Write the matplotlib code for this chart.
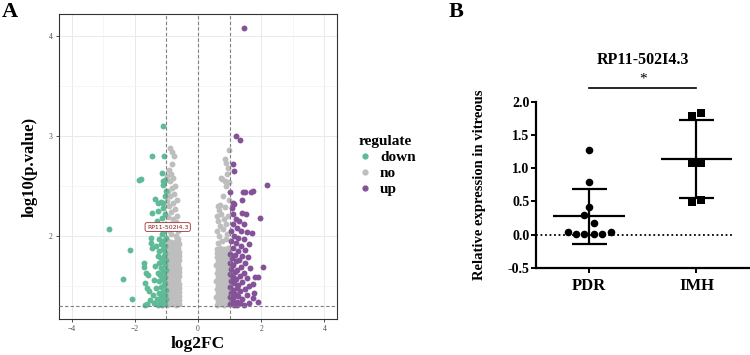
import numpy as np
import matplotlib
matplotlib.use("Agg")
import matplotlib.pyplot as plt
from matplotlib.lines import Line2D

plt.rcParams["font.family"] = ["Liberation Serif", "DejaVu Serif"]

# ---- panel A: volcano data (log2FC, -log10 p) ----
down_x = [-2.81, -2.16, -2.39, -2.09, -1.72, -1.72, -1.66, -1.69, -1.61, -1.60, -1.69,
          -1.47, -1.36, -1.87, -1.80, -1.47, -1.08, -1.10, -1.15, -1.10, -1.03, -1.10,
          -1.27, -1.18, -1.10, -1.50, -1.48, -1.45, -1.58, -1.26, -1.30,
          -1.02, -1.06, -1.12, -1.04, -1.15, -1.03, -1.20, -1.08, -1.14, -1.02, -1.25,
          -1.10, -1.18, -1.04, -1.32, -1.12, -1.22, -1.03, -1.08, -1.28, -1.16, -1.02,
          -1.12, -1.24, -1.05, -1.36, -1.17, -1.02, -1.10, -1.28, -1.20, -1.04, -1.14,
          -1.40, -1.25, -1.03, -1.09, -1.18, -1.32, -1.02, -1.12, -1.24, -1.06, -1.44,
          -1.16, -1.02, -1.30, -1.10, -1.20, -1.04, -1.14, -1.38, -1.52, -1.26, -1.55]
down_y = [2.07, 1.86, 1.57, 1.37, 1.73, 1.69, 1.63, 1.53, 1.48, 1.32, 1.31,
          2.23, 2.37, 2.56, 2.57, 2.80, 2.80, 3.10, 2.63, 2.55, 2.56, 2.51,
          2.33, 2.34, 2.33, 1.98, 1.93, 1.88, 1.61, 2.25, 2.15,
          2.45, 2.40, 2.28, 2.22, 2.18, 2.12, 2.10, 2.05, 2.02, 1.98, 1.97,
          1.95, 1.92, 1.90, 1.90, 1.87, 1.85, 1.83, 1.80, 1.80, 1.78, 1.76,
          1.74, 1.73, 1.71, 1.70, 1.68, 1.66, 1.64, 1.63, 1.61, 1.59, 1.57,
          1.56, 1.55, 1.53, 1.51, 1.49, 1.48, 1.46, 1.44, 1.43, 1.41, 1.41,
          1.39, 1.37, 1.37, 1.35, 1.34, 1.32, 1.31, 1.33, 1.36, 1.31, 1.45]

up_x = [1.46, 1.19, 1.34, 1.11, 1.13, 2.19, 1.02, 1.41, 1.48, 1.69, 1.74, 1.40, 1.10, 1.15,
        1.97, 1.40, 1.53, 1.71, 2.06, 1.90, 1.76, 1.90, 1.74, 1.79, 1.74, 1.11, 1.06,
        1.20, 1.30, 1.10, 1.44, 1.22, 1.36, 1.05, 1.55, 1.15, 1.28, 1.46, 1.04, 1.20,
        1.62, 1.35, 1.10, 1.50, 1.26, 1.02, 1.16, 1.40, 1.58, 1.08, 1.30, 1.20, 1.02,
        1.48, 1.12, 1.36, 1.66, 1.05, 1.24, 1.16, 1.44, 1.02, 1.32, 1.10, 1.56, 1.20,
        1.04, 1.40, 1.14, 1.28, 1.60, 1.02, 1.22, 1.48, 1.10, 1.34, 1.05, 1.18, 1.54,
        1.26, 1.02, 1.12, 1.40, 1.06, 1.22, 1.32, 1.02, 1.14, 1.46, 1.62, 1.24]
up_y = [4.08, 3.00, 2.96, 2.72, 2.65, 2.51, 2.44, 2.44, 2.44, 2.44, 2.45, 2.36, 2.33, 2.32,
        2.18, 2.23, 2.22, 2.03, 1.69, 1.59, 1.43, 1.34, 1.38, 1.59, 1.52, 2.22, 2.28,
        2.17, 2.15, 2.12, 2.12, 2.08, 2.05, 2.05, 2.04, 2.00, 1.98, 1.97, 1.95, 1.93,
        1.92, 1.90, 1.88, 1.86, 1.85, 1.82, 1.81, 1.80, 1.79, 1.78, 1.76, 1.75, 1.73,
        1.73, 1.71, 1.69, 1.68, 1.67, 1.66, 1.64, 1.63, 1.62, 1.60, 1.59, 1.58, 1.57,
        1.55, 1.54, 1.53, 1.51, 1.50, 1.49, 1.48, 1.47, 1.46, 1.45, 1.43, 1.42, 1.41,
        1.40, 1.39, 1.38, 1.37, 1.35, 1.34, 1.33, 1.32, 1.31, 1.31, 1.33, 1.31]

no_x = [-0.97, -0.84, -0.71, -0.60, -0.92, -0.79, -0.66, -0.59, -0.98, -0.86, -0.73, -0.61,
        -0.93, -0.80, -0.68, -0.59, -0.97, -0.85, -0.72, -0.61, -0.91, -0.78, -0.66, -0.59,
        -0.98, -0.86, -0.74, -0.62, -0.93, -0.81, -0.68, -0.59, -0.97, -0.84, -0.72, -0.61,
        -0.92, -0.79, -0.66, -0.59, -0.98, -0.86, -0.73, -0.62, -0.93, -0.81, -0.69, -0.60,
        -0.97, -0.85, -0.72, -0.61, -0.91, -0.78, -0.66, -0.60, -0.97, -0.84, -0.72, -0.62,
        -0.93, -0.80, -0.68, -0.61, -0.96, -0.84, -0.71, -0.63,
        -0.62, -0.70, -0.85, -0.65, -0.92, -0.75, -0.60, -0.88, -0.70, -0.80, -0.95, -0.66,
        -0.85, -0.74, -0.92, -0.80, -0.68, -0.88, -0.76, -0.95, -0.83, -0.72, -0.90, -0.80,
        -0.86, -0.93, -0.82, -0.77, -0.90, -0.83, -0.97, -0.97,
        0.59, 0.70, 0.82, 0.94, 0.63, 0.75, 0.87, 0.98, 0.58, 0.69, 0.81, 0.93,
        0.62, 0.76, 0.88, 0.98, 0.59, 0.71, 0.83, 0.95, 0.63, 0.74, 0.86, 0.98,
        0.58, 0.70, 0.82, 0.94, 0.62, 0.75, 0.88, 0.98, 0.59, 0.71, 0.83, 0.94,
        0.63, 0.76, 0.87, 0.98, 0.58, 0.70, 0.81, 0.93, 0.62, 0.74, 0.86, 0.98,
        0.59, 0.71, 0.83, 0.95, 0.61, 0.73, 0.86, 0.97, 0.59, 0.70, 0.82, 0.94,
        0.62, 0.75, 0.88, 0.66, 0.93, 0.60, 0.78, 0.70, 0.90, 0.64, 0.82, 0.60,
        0.74, 0.95, 0.66, 0.62, 0.70, 0.85, 0.97, 0.76, 0.85, 0.97, 0.72, 0.85,
        0.90, 0.95, 0.97, 0.92, 0.88, 0.80]
no_y = [1.31, 1.32, 1.31, 1.32, 1.35, 1.36, 1.35, 1.36, 1.39, 1.40, 1.39, 1.40,
        1.43, 1.44, 1.43, 1.44, 1.47, 1.48, 1.47, 1.48, 1.51, 1.52, 1.51, 1.52,
        1.55, 1.56, 1.55, 1.56, 1.59, 1.60, 1.59, 1.60, 1.63, 1.64, 1.63, 1.64,
        1.67, 1.68, 1.67, 1.68, 1.71, 1.72, 1.71, 1.72, 1.75, 1.76, 1.75, 1.76,
        1.79, 1.80, 1.79, 1.80, 1.83, 1.84, 1.83, 1.84, 1.87, 1.88, 1.87, 1.88,
        1.91, 1.92, 1.91, 1.92, 1.95, 1.94, 1.95, 1.94,
        1.97, 2.00, 2.02, 2.05, 2.06, 2.08, 2.10, 2.12, 2.14, 2.17, 2.19, 2.20,
        2.24, 2.27, 2.30, 2.33, 2.36, 2.40, 2.42, 2.45, 2.48, 2.50, 2.55, 2.58,
        2.62, 2.66, 2.72, 2.80, 2.88, 2.84, 2.60, 2.35,
        1.31, 1.32, 1.31, 1.32, 1.35, 1.36, 1.35, 1.36, 1.39, 1.40, 1.39, 1.40,
        1.43, 1.44, 1.43, 1.44, 1.47, 1.48, 1.47, 1.48, 1.51, 1.52, 1.51, 1.52,
        1.55, 1.56, 1.55, 1.56, 1.59, 1.60, 1.59, 1.60, 1.63, 1.64, 1.63, 1.64,
        1.67, 1.68, 1.67, 1.68, 1.71, 1.72, 1.71, 1.72, 1.75, 1.76, 1.75, 1.76,
        1.79, 1.80, 1.79, 1.80, 1.83, 1.84, 1.83, 1.84, 1.87, 1.88, 1.87, 1.88,
        1.93, 1.95, 1.97, 2.00, 2.02, 2.05, 2.07, 2.10, 2.12, 2.15, 2.17, 2.20,
        2.22, 2.20, 2.26, 2.30, 2.31, 2.29, 2.36, 2.57, 2.55, 2.54, 2.58, 2.77,
        2.73, 2.68, 2.86, 2.62, 2.50, 2.40]

label_gene = "RP11-502I4.3"
label_pos = (-0.96, 2.09)

# ---- panel B: expression data ----
groups = ["PDR", "IMH"]
pdr_vals = [1.275, 0.80, 0.415, 0.30, 0.17, 0.035, 0.005, 0.005, 0.005, 0.005, 0.04]
pdr_off = [0.0, 0.0, 0.0, -0.05, 0.04, -0.20, -0.12, -0.05, 0.04, 0.12, 0.20]
imh_vals = [1.79, 1.835, 1.085, 1.085, 0.485, 0.525]
imh_off = [-0.04, 0.045, -0.04, 0.04, -0.04, 0.045]

fig = plt.figure(figsize=(7.5, 3.55), dpi=100)

# ---------------- A ----------------
ax = fig.add_axes([0.0787, 0.1014, 0.3707, 0.859])
ax.set_xlim(-4.4, 4.4)
ax.set_ylim(1.17, 4.22)
ax.set_xticks([-4, -2, 0, 2, 4])
ax.set_xticks([-3, -1, 1, 3], minor=True)
ax.set_yticks([2, 3, 4])
ax.set_yticks([1.5, 2.5, 3.5, 4.0], minor=True)
ax.grid(True, which="major", color="#E6E6E6", lw=0.6)
ax.grid(True, which="minor", color="#F0F0F0", lw=0.4)
ax.set_axisbelow(True)
ax.tick_params(which="minor", length=0)
ax.tick_params(which="major", length=2.5, width=0.6, color="#333333",
               labelsize=5.5, labelcolor="#4D4D4D", pad=2)
for s in ax.spines.values():
    s.set_color("#333333")
    s.set_linewidth(0.8)

ax.scatter(no_x, no_y, s=18, color="#BEBEBE", lw=0, zorder=2)
ax.scatter(down_x, down_y, s=18, color="#5FBA98", lw=0, zorder=3)
ax.scatter(up_x, up_y, s=18, color="#85529A", lw=0, zorder=3)

for xv in (-1, 0, 1):
    ax.axvline(xv, color="#7F7F7F", ls=(0, (3, 2)), lw=0.8, zorder=4)
ax.axhline(1.301, color="#7F7F7F", ls=(0, (3, 2)), lw=0.8, zorder=4)

ax.text(label_pos[0], label_pos[1], label_gene, fontsize=4.5, family="DejaVu Sans",
        color="#8B1A1A", ha="center", va="center", zorder=5,
        bbox=dict(boxstyle="round,pad=0.3", fc="white", ec="#A03030", lw=0.6))

ax.set_xlabel("log2FC", fontsize=12.5, fontweight="bold", labelpad=2)
ax.set_ylabel("log10(p.value)", fontsize=12, fontweight="bold", labelpad=8)

handles = [Line2D([], [], ls="", marker="o", ms=3.5, color=c)
           for c in ("#5FBA98", "#BEBEBE", "#85529A")]
leg = ax.legend(handles, ["down", "no", "up"], title="regulate",
                loc="upper left", bbox_to_anchor=(0.468, 0.64),
                bbox_transform=fig.transFigure, frameon=False,
                prop=dict(size=11, weight="bold"), title_fontproperties=dict(size=11, weight="bold"),
                handlelength=0.8, handletextpad=0.6, labelspacing=0.15, borderpad=0)
leg._legend_box.align = "left"

# ---------------- B ----------------
bx = fig.add_axes([0.7143, 0.245, 0.2857, 0.4685])
bx.set_xlim(-0.5, 1.5)
bx.set_ylim(-0.5, 2.0)
for s in ("top", "right"):
    bx.spines[s].set_visible(False)
bx.spines["left"].set_bounds(-0.5, 2.0)
for s in ("left", "bottom"):
    bx.spines[s].set_linewidth(1.6)
bx.set_yticks([-0.5, 0.0, 0.5, 1.0, 1.5, 2.0])
bx.set_yticklabels(["-0.5", "0.0", "0.5", "1.0", "1.5", "2.0"])
bx.set_xticks([0, 1])
bx.set_xticklabels(groups)
bx.tick_params(axis="y", length=3.5, width=1.4, pad=1, labelsize=10)
bx.tick_params(axis="x", length=3.5, width=1.4, pad=4, labelsize=12)
for t in bx.get_xticklabels() + bx.get_yticklabels():
    t.set_fontweight("bold")

bx.axhline(0, xmin=0, xmax=0.92, color="black", ls=(0, (1, 1.5)), lw=1.3, zorder=1)

for i, (vals, off, mk) in enumerate([(pdr_vals, pdr_off, "o"), (imh_vals, imh_off, "s")]):
    v = np.array(vals)
    m, sd = v.mean(), v.std(ddof=1)
    bx.scatter(i + np.array(off), v, s=30, marker=mk, color="black", lw=0, zorder=3,
               clip_on=False)
    bx.vlines(i, m - sd, m + sd, color="black", lw=1.6, zorder=2)
    bx.hlines([m - sd, m + sd], i - 0.165, i + 0.165, color="black", lw=1.6, zorder=2)
    bx.hlines(m, i - 0.335, i + 0.335, color="black", lw=1.6, zorder=2)

bx.plot([0, 1], [2.21, 2.21], color="black", lw=1.2, clip_on=False)
bx.text(0.5, 2.25, "*", ha="center", va="bottom", fontsize=11)
bx.text(0.5, 2.50, label_gene, ha="center", va="bottom", fontsize=11.5, fontweight="bold")
bx.set_ylabel("Relative expression in vitreous", fontsize=10.5, fontweight="bold")
bx.yaxis.set_label_coords(-0.232, 0.5)

fig.text(0.003, 0.995, "A", fontsize=16, fontweight="bold", va="top", ha="left")
fig.text(0.598, 0.995, "B", fontsize=16, fontweight="bold", va="top", ha="left")

fig.savefig("out.png", dpi=100)
